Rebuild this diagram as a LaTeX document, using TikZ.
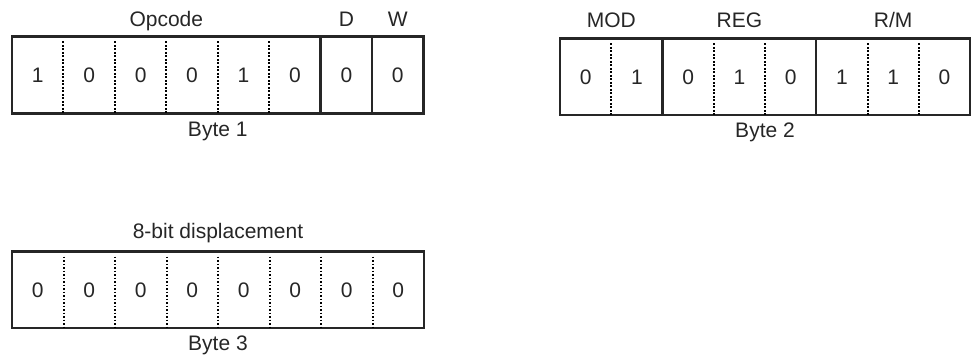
\documentclass[tikz,border=0pt]{standalone}
\usepackage{fontspec}
\setmainfont{Liberation Sans}
\begin{document}
\begin{tikzpicture}[x=1pt,y=-1pt,
  frame/.style={draw=black!85,line width=2.4pt},
  solidsep/.style={draw=black!85,line width=2.4pt},
  dotsep/.style={draw=black,line width=2pt,dash pattern=on 1.6pt off 1.9pt},
  bit/.style={font=\fontsize{21}{22}\selectfont,text=black!85,inner sep=0pt,anchor=base},
  lbl/.style={font=\fontsize{21}{22}\selectfont,text=black!85,inner sep=0pt,anchor=base}]
\useasboundingbox (0,0) rectangle (976,355);

% ---------- Byte 1 ----------
\def\xa{12}\def\wa{51.44}\def\ta{36.5}\def\ba{113.5}
\draw[frame] (\xa,\ta) rectangle (\xa+8*\wa,\ba);
\foreach \i in {1,...,5}{\draw[dotsep] (\xa+\i*\wa,\ta+5) -- (\xa+\i*\wa,\ba);}
\foreach \i in {6,7}{\draw[solidsep] (\xa+\i*\wa,\ta) -- (\xa+\i*\wa,\ba);}
\foreach \v [count=\k from 0] in {1,0,0,0,1,0,0,0}{
  \node[bit] (a\k) at (\xa+\k*\wa+0.5*\wa,\ta/2+\ba/2+7.5) {\v};}
\node[lbl] (opcode) at (\xa+3*\wa,27) {Opcode};
\node[lbl] (dlab) at (\xa+6.5*\wa,27) {D};
\node[lbl] (wlab) at (\xa+7.5*\wa,27) {W};
\node[lbl] (byte1) at (\xa+4*\wa,\ba+23) {Byte 1};

% ---------- Byte 2 ----------
\def\xb{560}\def\wb{51.25}\def\tb{38.5}\def\bb{115}
\draw[frame] (\xb,\tb) rectangle (\xb+8*\wb,\bb);
\foreach \i in {1,3,4,6,7}{\draw[dotsep] (\xb+\i*\wb,\tb+5) -- (\xb+\i*\wb,\bb);}
\foreach \i in {2,5}{\draw[solidsep] (\xb+\i*\wb,\tb) -- (\xb+\i*\wb,\bb);}
\foreach \v [count=\k from 0] in {0,1,0,1,0,1,1,0}{
  \node[bit] (b\k) at (\xb+\k*\wb+0.5*\wb,\tb/2+\bb/2+7.5) {\v};}
\node[lbl] (mod) at (\xb+1*\wb,28) {MOD};
\node[lbl] (reg) at (\xb+3.5*\wb,28) {REG};
\node[lbl] (rm) at (\xb+6.5*\wb,28) {R/M};
\node[lbl] (byte2) at (\xb+4*\wb,\bb+23) {Byte 2};

% ---------- Byte 3 ----------
\def\xc{12}\def\wc{51.5}\def\tc{251.5}\def\bc{328}
\draw[frame] (\xc,\tc) rectangle (\xc+8*\wc,\bc);
\foreach \i in {1,...,7}{\draw[dotsep] (\xc+\i*\wc,\tc+5) -- (\xc+\i*\wc,\bc);}
\foreach \k in {0,...,7}{
  \node[bit] (c\k) at (\xc+\k*\wc+0.5*\wc,\tc/2+\bc/2+7.5) {0};}
\node[lbl] (disp) at (\xc+4*\wc,239) {8-bit displacement};
\node[lbl] (byte3) at (\xc+4*\wc,\bc+22) {Byte 3};
\end{tikzpicture}
\end{document}
